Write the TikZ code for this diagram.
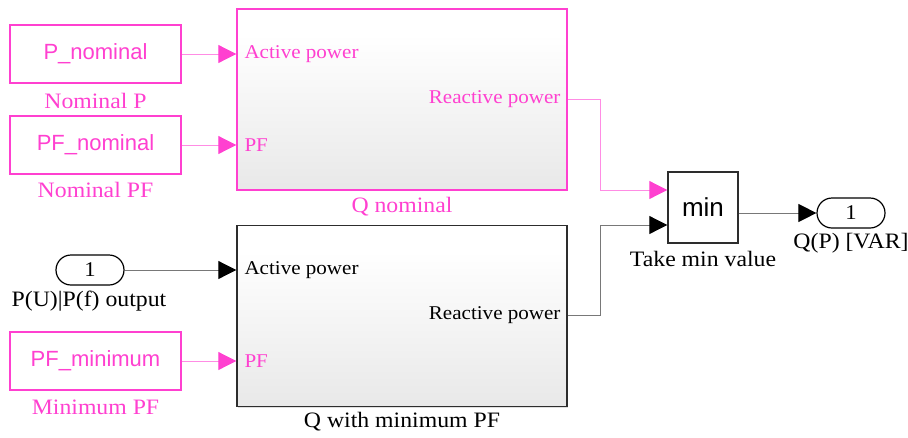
\documentclass[tikz,border=0pt]{standalone}
\usepackage{fontspec}
\setmainfont{Liberation Serif}[FakeStretch=1.08]
\newfontfamily\blocksans{Liberation Sans}
\usetikzlibrary{arrows.meta,shadows}

\definecolor{simpink}{RGB}{255,64,208}
\definecolor{simpinkline}{RGB}{255,140,228}
\definecolor{simblack}{RGB}{45,45,45}
\definecolor{simwire}{RGB}{120,120,120}

% vertical fill of subsystem blocks: white at the top, light grey at the bottom
\pgfdeclareverticalshading{subsysshade}{100bp}{%
  color(0bp)=(black!14); color(68bp)=(white); color(100bp)=(white)}

\tikzset{
  blocklabel/.style={font=\fontsize{22}{24}\selectfont},
  portlabel/.style={font=\fontsize{19.5}{21}\selectfont, inner sep=0pt},
  constbox/.style={draw=simpink, line width=1.4pt, fill=white,
    minimum width=171pt, minimum height=58pt, inner sep=0pt,
    text=simpink, font=\blocksans\fontsize{22}{24}\selectfont,
    drop shadow={shadow xshift=1.2pt, shadow yshift=-1.2pt, opacity=0.25}},
  subsys/.style={draw=#1, line width=1.4pt, shading=subsysshade,
    minimum width=330pt, minimum height=181pt, inner sep=0pt,
    drop shadow={shadow xshift=1.2pt, shadow yshift=-1.2pt, opacity=0.25}},
  portpill/.style={draw=black, line width=1.2pt, fill=white,
    minimum width=68pt, minimum height=30pt, rounded corners=15pt,
    inner sep=0pt, font=\fontsize{21}{23}\selectfont},
  minbox/.style={draw=simblack, line width=1.4pt, fill=white,
    minimum width=70pt, minimum height=71pt, inner sep=0pt,
    font=\blocksans\fontsize{26}{28}\selectfont,
    drop shadow={shadow xshift=1.2pt, shadow yshift=-1.2pt, opacity=0.25}},
  pinkwire/.style={draw=simpinkline, line width=1pt,
    -{Triangle[length=18pt, width=18pt, fill=simpink, color=simpink]}},
  blackwire/.style={draw=simwire, line width=1pt,
    -{Triangle[length=18pt, width=18pt, fill=black, color=black]}},
}

\begin{document}
\begin{tikzpicture}[x=1pt, y=-1pt]
\useasboundingbox (0,0) rectangle (908,437);

% constant blocks
\node[constbox] (pnom)  at (95.5,54)  {P\_nominal};
\node[blocklabel, text=simpink] at (95.5,101) {Nominal P};
\node[constbox] (pfnom) at (95.5,145) {PF\_nominal};
\node[blocklabel, text=simpink] at (95.5,190) {Nominal PF};
\node[constbox] (pfmin) at (95.5,361) {PF\_minimum};
\node[blocklabel, text=simpink] at (95.5,407) {Minimum PF};

% input port
\node[portpill] (inp) at (90,270) {1};
\node[blocklabel] at (89,301) {P(U)|P(f) output};

% subsystem: nominal reactive power
\node[subsys=simpink] (qnom) at (402,99.5) {};
\node[blocklabel, text=simpink] at (402,207) {Q nominal};
\node[portlabel, text=simpink, anchor=west] (qnomA) at ([xshift=8pt]qnom.west |- 0,54) {Active power};
\node[portlabel, text=simpink, anchor=west] (qnomPF) at ([xshift=8pt]qnom.west |- 0,145) {PF};
\node[portlabel, text=simpink, anchor=east] (qnomR) at ([xshift=-7pt]qnom.east |- 0,99) {Reactive power};

% subsystem: reactive power with minimum PF
\node[subsys=simblack] (qmin) at (402,316) {};
\node[blocklabel] at (402,422) {Q with minimum PF};
\node[portlabel, anchor=west] (qminA) at ([xshift=8pt]qmin.west |- 0,270) {Active power};
\node[portlabel, text=simpink, anchor=west] (qminPF) at ([xshift=8pt]qmin.west |- 0,361) {PF};
\node[portlabel, anchor=east] (qminR) at ([xshift=-7pt]qmin.east |- 0,315) {Reactive power};

% min block and output port
\node[minbox] (minb) at (703,207.5) {min};
\node[blocklabel] at (703,259) {Take min value};
\node[portpill] (outp) at (851,213) {1};
\node[blocklabel] at (851,243) {Q(P) [VAR]};

% anchor points on block edges
\coordinate (inQnA)  at (qnom.west |- pnom);
\coordinate (inQnPF) at (qnom.west |- pfnom);
\coordinate (inQmA)  at (qmin.west |- inp);
\coordinate (inQmPF) at (qmin.west |- pfmin);
\coordinate (outQn)  at (qnom.east |- 0,99);
\coordinate (outQm)  at (qmin.east |- 0,315);
\coordinate (inMin1) at (minb.west |- 0,190);
\coordinate (inMin2) at (minb.west |- 0,225);
\coordinate (outMin) at (minb.east |- outp);

% signal lines
\draw[pinkwire] (pnom.east) -- (inQnA);
\draw[pinkwire] (pfnom.east) -- (inQnPF);
\draw[pinkwire] (pfmin.east) -- (inQmPF);
\draw[blackwire] (inp.east) -- (inQmA);
\draw[pinkwire] (outQn) -| (600,190) -- (inMin1);
\draw[blackwire] (outQm) -| (600,225) -- (inMin2);
\draw[blackwire] (outMin) -- (outp.west);
\end{tikzpicture}
\end{document}
